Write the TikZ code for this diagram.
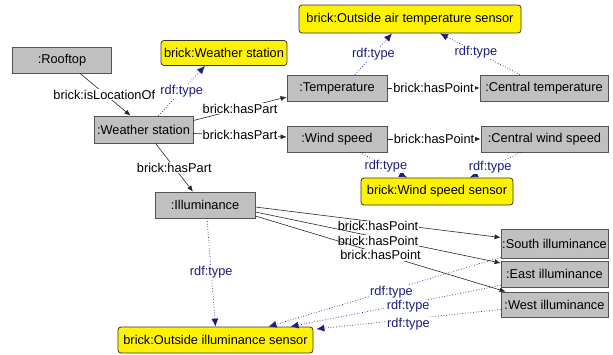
\documentclass[tikz,border=0pt]{standalone}
\usepackage{fontspec}
\setmainfont{Liberation Sans}
\usetikzlibrary{arrows.meta}
\definecolor{boxgray}{RGB}{192,192,192}
\definecolor{boxline}{RGB}{85,85,85}
\definecolor{typeblue}{RGB}{28,28,130}
\begin{document}
\begin{tikzpicture}[x=1pt,y=-1pt,
  font=\fontsize{12.8}{14}\selectfont,
  inst/.style={draw=boxline, line width=0.8pt, fill=boxgray, inner sep=0pt, align=center},
  cls/.style={draw=black!80, line width=0.8pt, fill=yellow, rounded corners=3pt, inner sep=0pt, align=center},
  rel/.style={draw=black!85, line width=0.6pt, -{Latex[length=6pt,width=5pt]}},
  typ/.style={draw=typeblue, line width=0.7pt, dotted, -{Latex[length=8pt,width=7pt]}},
  rlab/.style={fill=white, inner sep=1pt, text=black},
  tlab/.style={fill=white, inner sep=1pt, text=typeblue}
]
\useasboundingbox (0,0) rectangle (613,354);
% class nodes
\node[cls, minimum width=126pt, minimum height=25pt] (wscls) at (224,53) {brick:Weather station};
\node[cls, minimum width=222pt, minimum height=28pt] (oats) at (410,19) {brick:Outside air temperature sensor};
\node[cls, minimum width=152pt, minimum height=27pt] (wss) at (437,191.5) {brick:Wind speed sensor};
\node[cls, minimum width=195pt, minimum height=26pt] (ois) at (215.5,340) {brick:Outside illuminance sensor};
% instance nodes
\node[inst, minimum width=99pt, minimum height=26pt] (roof) at (62,60) {:Rooftop};
\node[inst, minimum width=99pt, minimum height=27pt] (ws) at (143.5,129.5) {:Weather station};
\node[inst, minimum width=100pt, minimum height=26pt] (temp) at (337,88) {:Temperature};
\node[inst, minimum width=128pt, minimum height=26pt] (ct) at (544,88) {:Central temperature};
\node[inst, minimum width=100pt, minimum height=26pt] (wind) at (337,139) {:Wind speed};
\node[inst, minimum width=127pt, minimum height=26pt] (cws) at (544.5,139) {:Central wind speed};
\node[inst, minimum width=100pt, minimum height=26pt] (ill) at (205,205) {:Illuminance};
\node[inst, minimum width=107pt, minimum height=29pt] (south) at (554.5,243.5) {:South illuminance};
\node[inst, minimum width=107pt, minimum height=26pt] (east) at (554.5,274) {:East illuminance};
\node[inst, minimum width=107pt, minimum height=25pt] (west) at (554.5,304.5) {:West illuminance};
% relations
\draw[rel] ([xshift=18pt]roof.south) -- node[rlab, xshift=-1pt]{brick:isLocationOf} ([xshift=-13pt]ws.north);
\draw[rel] ([yshift=9pt]ws.east) -- node[rlab]{brick:hasPart} ([yshift=-9pt]temp.west);
\draw[rel] ([yshift=-4pt]ws.east) -- node[rlab]{brick:hasPart} ([yshift=2pt]wind.west);
\draw[rel] ([xshift=12pt]ws.south) -- node[rlab]{brick:hasPart} ([xshift=-12pt]ill.north);
\draw[rel] (temp.east) -- node[rlab]{brick:hasPoint} (ct.west);
\draw[rel] (wind.east) -- node[rlab]{brick:hasPoint} (cws.west);
\draw[rel] ([yshift=-2pt]ill.east) -- node[rlab, pos=0.5, yshift=-4pt]{brick:hasPoint} ([yshift=6pt]south.west);
\draw[rel] ([yshift=-7pt]ill.east) -- node[rlab, pos=0.5, yshift=-3pt]{brick:hasPoint} ([yshift=11pt]east.west);
\draw[rel] ([yshift=-11pt]ill.east) -- node[rlab, pos=0.5, yshift=-1pt]{brick:hasPoint} ([xshift=5pt]west.north west);
% types
\draw[typ] ([xshift=15pt]ws.north) -- node[tlab]{rdf:type} ([xshift=-19pt]wscls.south);
\draw[typ] ([xshift=18pt]temp.north) -- node[tlab]{rdf:type} ([xshift=-18pt]oats.south);
\draw[typ] ([xshift=-24pt]ct.north) -- node[tlab, pos=0.55]{rdf:type} ([xshift=30pt]oats.south);
\draw[typ] ([xshift=23pt]wind.south) -- node[tlab, pos=0.55]{rdf:type} ([xshift=-30pt]wss.north);
\draw[typ] ([xshift=-24pt]cws.south) -- node[tlab, pos=0.6]{rdf:type} ([xshift=33pt]wss.north);
\draw[typ] ([xshift=2pt]ill.south) -- node[tlab]{rdf:type} (ois.north);
\draw[typ] ([yshift=1pt]south.south west) -- node[tlab, pos=0.47, yshift=-2pt]{rdf:type} ([xshift=53pt]ois.north);
\draw[typ] ([yshift=2pt]east.south west) -- node[tlab, pos=0.44, yshift=-3pt]{rdf:type} ([xshift=75pt]ois.north);
\draw[typ] ([yshift=-5pt]west.west) -- node[tlab, pos=0.5, yshift=-5pt]{rdf:type} ([yshift=11pt, xshift=3pt]ois.east);
\end{tikzpicture}
\end{document}
